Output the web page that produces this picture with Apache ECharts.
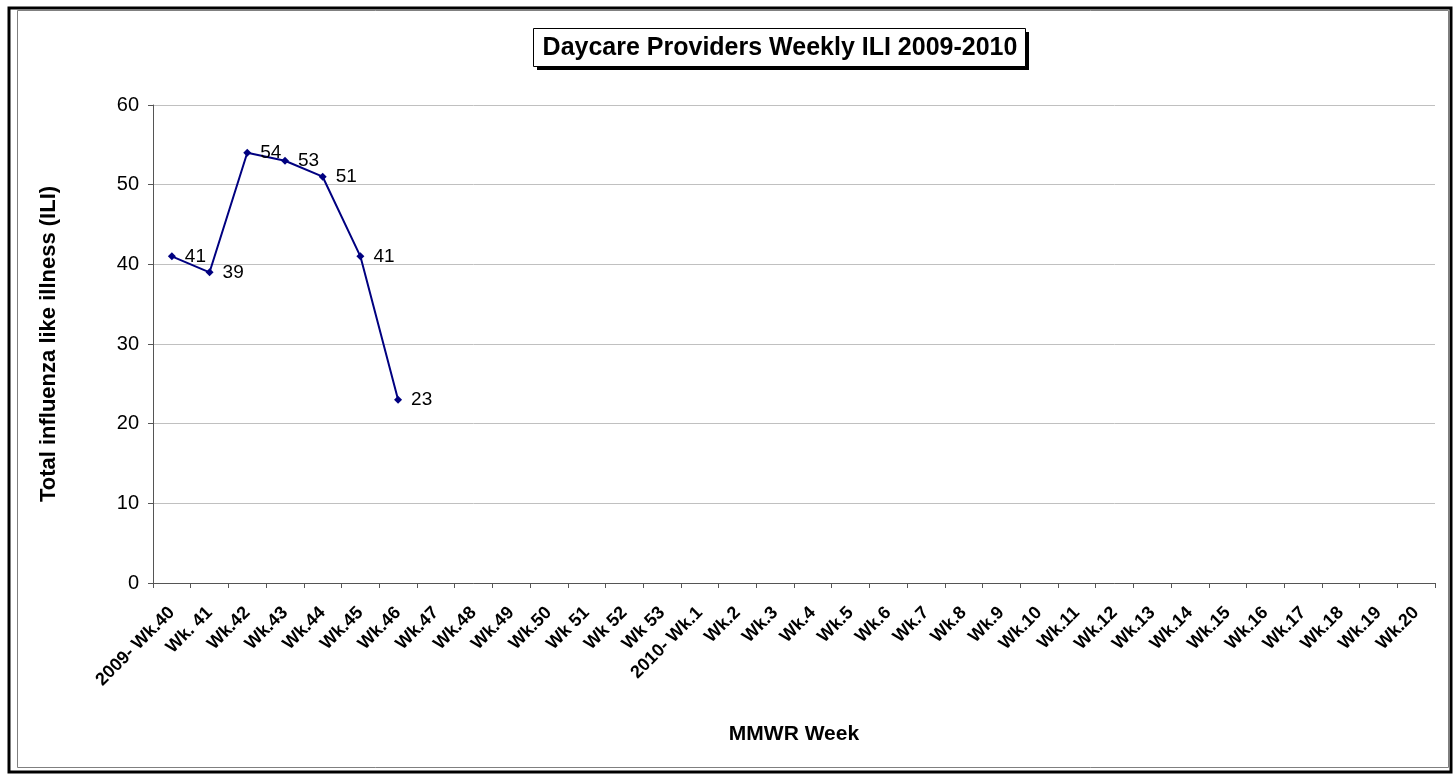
<!DOCTYPE html>
<html>
<head>
<meta charset="utf-8">
<script src="https://cdn.jsdelivr.net/npm/echarts@6/dist/echarts.min.js"></script>
<style>
  html, body { margin: 0; padding: 0; background: #fff; }
  #chart { width: 1453px; height: 776px; }
</style>
</head>
<body>
<div id="chart"></div>
<script>
  // weeks on the x axis
  const weeks = [
    '2009- Wk.40', 'Wk. 41', 'Wk.42', 'Wk.43', 'Wk.44', 'Wk.45', 'Wk.46', 'Wk.47',
    'Wk.48', 'Wk.49', 'Wk.50', 'Wk 51', 'Wk 52', 'Wk 53', '2010- Wk.1', 'Wk.2',
    'Wk.3', 'Wk.4', 'Wk.5', 'Wk.6', 'Wk.7', 'Wk.8', 'Wk.9', 'Wk.10', 'Wk.11',
    'Wk.12', 'Wk.13', 'Wk.14', 'Wk.15', 'Wk.16', 'Wk.17', 'Wk.18', 'Wk.19', 'Wk.20'
  ]
  // total ILI per week (only the first weeks are reported)
  const iliTotals = [41, 39, 54, 53, 51, 41, 23]

  const font = 'Liberation Sans, Arial, sans-serif'

  const chart = echarts.init(document.getElementById('chart'))
  const options = {
    animation: false,
    backgroundColor: '#fff',
    textStyle: { fontFamily: font },
    graphic: [
      // outer frame with shadow, like the exported picture
      {
        type: 'rect',
        shape: { x: 9, y: 8, width: 1442, height: 764 },
        style: { fill: 'none', stroke: '#000', lineWidth: 3 },
        silent: true
      },
      {
        type: 'rect',
        shape: { x: 17.5, y: 10.5, width: 1431, height: 757 },
        style: { fill: 'none', stroke: '#808080', lineWidth: 1 },
        silent: true
      },
      // title box + its shadow
      {
        type: 'rect',
        shape: { x: 537, y: 32, width: 492, height: 38 },
        style: { fill: '#000' },
        silent: true
      },
      {
        type: 'rect',
        shape: { x: 533.5, y: 28.5, width: 492, height: 38 },
        style: { fill: '#fff', stroke: '#000', lineWidth: 1 },
        silent: true
      },
      {
        type: 'text',
        x: 780,
        y: 48,
        style: {
          text: 'Daycare Providers Weekly ILI 2009-2010',
          fontFamily: font,
          fontSize: 25,
          fontWeight: 'bold',
          fill: '#000',
          align: 'center',
          verticalAlign: 'middle'
        }
      }
    ],
    grid: {
      left: 153,
      right: 18,
      top: 105,
      bottom: 193
    },
    xAxis: {
      type: 'category',
      data: weeks,
      boundaryGap: true,
      name: 'MMWR Week',
      nameLocation: 'middle',
      nameGap: 141,
      nameTextStyle: { fontFamily: font, fontSize: 21, fontWeight: 'bold', color: '#000' },
      axisLine: { lineStyle: { color: '#555', width: 1 } },
      axisTick: { show: true, alignWithLabel: false, length: 5, lineStyle: { color: '#555' } },
      axisLabel: {
        interval: 0,
        rotate: 45,
        margin: 27,
        fontFamily: font,
        fontSize: 18,
        fontWeight: 'bold',
        color: '#000'
      },
      splitLine: { show: false }
    },
    yAxis: {
      type: 'value',
      min: 0,
      max: 60,
      interval: 10,
      name: 'Total influenza like illness (ILI)',
      nameLocation: 'middle',
      nameGap: 93,
      nameTextStyle: { fontFamily: font, fontSize: 22, fontWeight: 'bold', color: '#000' },
      axisLine: { show: true, lineStyle: { color: '#555', width: 1 } },
      axisTick: { show: true, length: 5, lineStyle: { color: '#555' } },
      axisLabel: { fontFamily: font, fontSize: 20, color: '#000', margin: 14 },
      splitLine: { show: true, lineStyle: { color: '#c0c0c0', width: 1 } }
    },
    series: [
      {
        name: 'ILI',
        type: 'line',
        data: iliTotals,
        symbol: 'diamond',
        symbolSize: 8,
        lineStyle: { color: '#000080', width: 2 },
        itemStyle: { color: '#000080' },
        label: {
          show: true,
          position: 'right',
          distance: 9,
          fontFamily: font,
          fontSize: 19,
          color: '#000'
        }
      }
    ]
  }
  chart.setOption(options)
  window.addEventListener('resize', function () {
    chart && chart.resize()
  })
</script>
</body>
</html>
